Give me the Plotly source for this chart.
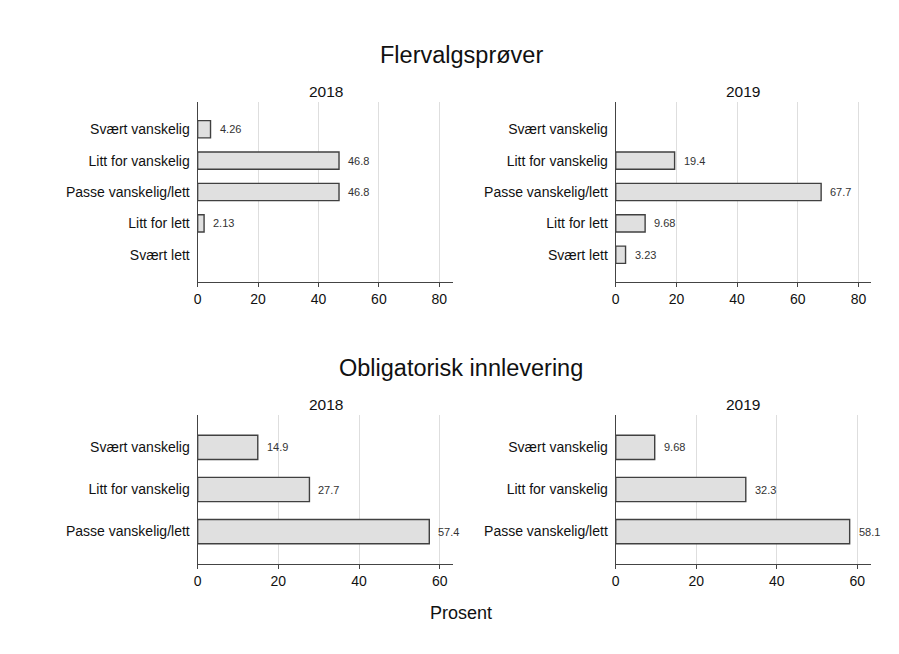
import plotly.graph_objects as go

# ---- data ----
cats_fler = ["Svært vanskelig", "Litt for vanskelig", "Passe vanskelig/lett", "Litt for lett", "Svært lett"]
fler_2018 = [4.26, 46.8, 46.8, 2.13, None]
fler_2019 = [None, 19.4, 67.7, 9.68, 3.23]

cats_oblig = ["Svært vanskelig", "Litt for vanskelig", "Passe vanskelig/lett"]
oblig_2018 = [14.9, 27.7, 57.4]
oblig_2019 = [9.68, 32.3, 58.1]

group_titles = ["Flervalgsprøver", "Obligatorisk innlevering"]
year_labels = ["2018", "2019"]
x_label = "Prosent"

OFF = 8  # default page body margin
OFFX = OFF + 2.5
W, H = 899 - 2 * OFF, 654 - 2 * OFF
FONT = "Liberation Sans, Arial, sans-serif"

def px_x(x):
    return (x - OFFX) / W

def px_y(y):
    return 1 - (y - OFF) / H

panels = [
    (cats_fler, fler_2018, (197, 454), (102, 282), [0, 84.7], [4.87, -0.87], 0.55, [0, 20, 40, 60, 80]),
    (cats_fler, fler_2019, (617, 873), (102, 282), [0, 84.0], [4.87, -0.87], 0.55, [0, 20, 40, 60, 80]),
    (cats_oblig, oblig_2018, (197, 454), (415, 564), [0, 63.4], [2.77, -0.77], 0.576, [0, 20, 40, 60]),
    (cats_oblig, oblig_2019, (617, 873), (415, 564), [0, 63.3], [2.77, -0.77], 0.576, [0, 20, 40, 60]),
]

fig = go.Figure()
layout = {}
annotations = []

for i, (cats, vals, xd, yd, xr, yr, bw, tv) in enumerate(panels):
    n = i + 1
    xa = "x" if n == 1 else f"x{n}"
    ya = "y" if n == 1 else f"y{n}"
    fig.add_trace(go.Bar(
        x=vals, y=cats, orientation="h", width=bw,
        marker=dict(color="#e0e0e0", line=dict(color="#404040", width=1.4)),
        xaxis=xa, yaxis=ya, showlegend=False, hoverinfo="x+y",
    ))
    xkey = "xaxis" if n == 1 else f"xaxis{n}"
    ykey = "yaxis" if n == 1 else f"yaxis{n}"
    layout[xkey] = dict(
        domain=[px_x(xd[0]), px_x(xd[1])], anchor=ya, range=xr,
        tickvals=tv, showgrid=True, gridcolor="#dedede", gridwidth=1,
        zeroline=False, showline=True, linecolor="#444444", linewidth=1.3,
        ticks="outside", ticklen=4, tickcolor="#444444", tickwidth=1,
        tickfont=dict(family=FONT, size=14, color="#111111"),
    )
    layout[ykey] = dict(
        domain=[px_y(yd[1]), px_y(yd[0])], anchor=xa, type="category",
        categoryorder="array", categoryarray=cats, range=yr,
        showgrid=False, zeroline=False, showline=True, linecolor="#444444", linewidth=1.3,
        ticks="", ticklabelstandoff=4,
        tickfont=dict(family=FONT, size=14, color="#111111"),
    )
    for c, v in zip(cats, vals):
        if v is None:
            continue
        annotations.append(dict(
            x=v, y=c, xref=xa, yref=ya, text=f"{v:g}", showarrow=False,
            xanchor="left", yanchor="middle", xshift=7,
            font=dict(family=FONT, size=11, color="#333333"),
        ))
    annotations.append(dict(
        x=px_x((xd[0] + xd[1]) / 2), y=px_y(yd[0] - 11), xref="paper", yref="paper",
        text=year_labels[i % 2], showarrow=False, xanchor="center", yanchor="middle",
        font=dict(family=FONT, size=15.5, color="#111111"),
    ))

annotations.append(dict(x=px_x(462), y=px_y(55.5), xref="paper", yref="paper",
                        text=group_titles[0], showarrow=False, xanchor="center", yanchor="middle",
                        font=dict(family=FONT, size=23.5, color="#111111")))
annotations.append(dict(x=px_x(462), y=px_y(368), xref="paper", yref="paper",
                        text=group_titles[1], showarrow=False, xanchor="center", yanchor="middle",
                        font=dict(family=FONT, size=23.5, color="#111111")))
annotations.append(dict(x=px_x(462), y=px_y(613), xref="paper", yref="paper",
                        text=x_label, showarrow=False, xanchor="center", yanchor="middle",
                        font=dict(family=FONT, size=18, color="#111111")))

fig.update_layout(
    width=W, height=H,
    margin=dict(l=0, r=0, t=0, b=0),
    paper_bgcolor="white", plot_bgcolor="white",
    annotations=annotations,
    **layout,
)

fig.write_html("out.html")
